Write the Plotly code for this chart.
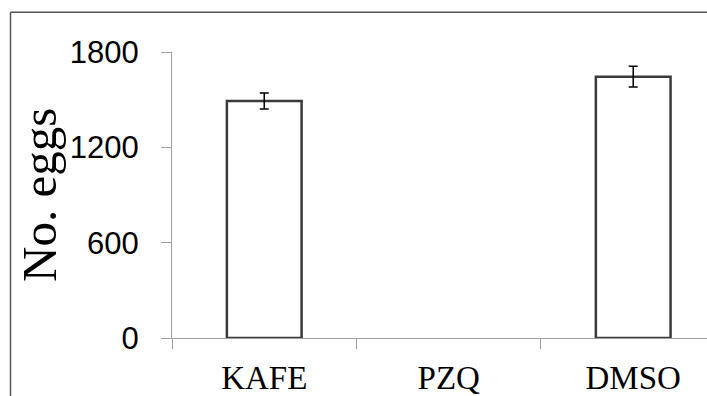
import plotly.graph_objects as go

categories = ["KAFE", "PZQ", "DMSO"]
egg_counts = [1492, 0, 1645]
egg_errors = [50, 0, 66]
y_ticks = [0, 600, 1200, 1800]

W, H = 707, 396
L, R, T, B = 172, 0, 52, 56

fig = go.Figure()
fig.add_trace(go.Bar(
    x=categories, y=egg_counts, width=0.405,
    marker=dict(color="white",
                line=dict(color="#3a3a3a",
                          width=[2.5 if v > 0 else 0 for v in egg_counts])),
    showlegend=False, hoverinfo="skip",
))

# error bars only where there is a nonzero error
err_idx = [i for i, e in enumerate(egg_errors) if e > 0]
fig.add_trace(go.Scatter(
    x=[categories[i] for i in err_idx],
    y=[egg_counts[i] for i in err_idx],
    mode="markers", marker=dict(size=0.1, color="rgba(0,0,0,0)"),
    error_y=dict(type="data", array=[egg_errors[i] for i in err_idx], visible=True,
                 color="black", thickness=1.5, width=4.5),
    showlegend=False,
))

def px_to_paper_x(px):
    return (px - L) / (W - L - R)

def px_to_paper_y(py):
    return (H - B - py) / (H - T - B)

fig.update_layout(
    width=W, height=H,
    margin=dict(l=L, r=R, t=T, b=B, pad=0),
    paper_bgcolor="white", plot_bgcolor="white",
    xaxis=dict(
        range=[-0.5, 2.4], showgrid=False, zeroline=False,
        showline=True, linecolor="#a0a0a0", linewidth=1,
        ticks="outside", ticklen=10, tickcolor="#a0a0a0", tickson="boundaries",
        tickfont=dict(family="Liberation Serif", size=33, color="black"),
        ticklabelstandoff=10,
    ),
    yaxis=dict(
        range=[0, 1800], tickvals=y_ticks, showgrid=False, zeroline=False,
        showline=True, linecolor="#a0a0a0", linewidth=1,
        ticks="outside", ticklen=10, tickcolor="#a0a0a0",
        tickfont=dict(family="Liberation Sans", size=31, color="black"),
        ticklabelstandoff=16,
    ),
    shapes=[
        dict(type="line", xref="paper", yref="paper",
             x0=px_to_paper_x(10.5), x1=px_to_paper_x(W + 5),
             y0=px_to_paper_y(12), y1=px_to_paper_y(12),
             line=dict(color="#555555", width=1.5)),
        dict(type="line", xref="paper", yref="paper",
             x0=px_to_paper_x(10.5), x1=px_to_paper_x(10.5),
             y0=px_to_paper_y(12), y1=px_to_paper_y(H + 5),
             line=dict(color="#555555", width=1.5)),
    ],
    annotations=[
        dict(text="No. eggs", xref="paper", yref="paper",
             x=px_to_paper_x(39), y=px_to_paper_y(196),
             xanchor="center", yanchor="middle", textangle=-90, showarrow=False,
             font=dict(family="Liberation Serif", size=49, color="black")),
    ],
)

fig.write_html("out.html")
